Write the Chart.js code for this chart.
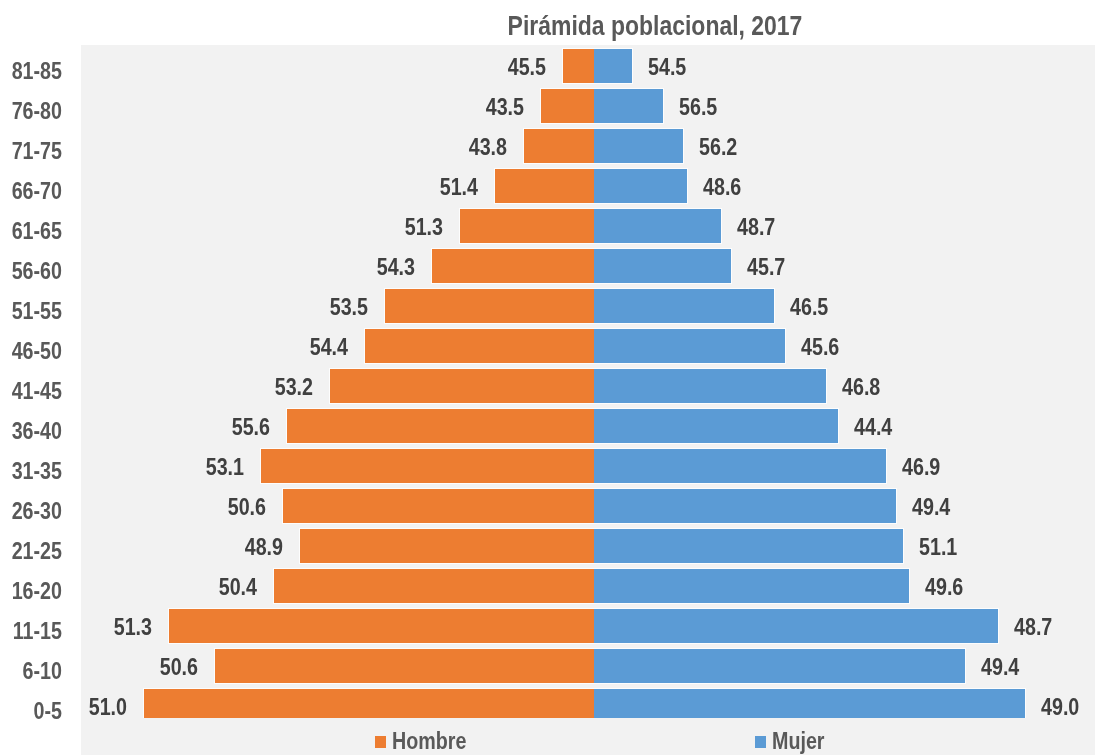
<!DOCTYPE html>
<html>
<head>
<meta charset="utf-8">
<title>Pirámida poblacional, 2017</title>
<script src="https://cdn.jsdelivr.net/npm/chart.js@4.4.1/dist/chart.umd.min.js"></script>
<style>
  html, body { margin: 0; padding: 0; background: #fff; }
  #wrap { position: relative; width: 1095px; height: 755px; }
  #legend { position: absolute; left: 0; top: 728px; width: 1095px; height: 26px;
    font-family: 'Liberation Sans', Arial, sans-serif;
    font-weight: bold; font-size: 24px; line-height: 26px; color: #595959; }
  #legend .item { position: absolute; top: 0; height: 26px; display: flex; align-items: center; }
  #legend .sw { width: 11px; height: 12px; margin-top: 2px; }
  #legend .txt { display: inline-block; margin-left: 6px; transform: scaleX(0.82); transform-origin: left center; }
</style>
</head>
<body>
<div id="wrap">
  <canvas id="pyramid" width="1095" height="755"></canvas>
  <div id="legend"></div>
</div>
<script>
/* Population pyramid: bar length = people per age group, labels = share by sex (%). */

var ageGroups = ['0-5', '6-10', '11-15', '16-20', '21-25', '26-30', '31-35', '36-40', '41-45',
  '46-50', '51-55', '56-60', '61-65', '66-70', '71-75', '76-80', '81-85'];
var hombres = [451, 380, 426, 321, 295, 312, 334, 308, 265, 230, 210, 163, 135, 100, 71, 54, 32];
var mujeres = [432, 372, 405, 316, 310, 303, 293, 245, 233, 192, 181, 138, 128, 94, 90, 70, 39];
var pctHombres = ['51.0', '50.6', '51.3', '50.4', '48.9', '50.6', '53.1', '55.6', '53.2',
  '54.4', '53.5', '54.3', '51.3', '51.4', '43.8', '43.5', '45.5'];
var pctMujeres = ['49.0', '49.4', '48.7', '49.6', '51.1', '49.4', '46.9', '44.4', '46.8',
  '45.6', '46.5', '45.7', '48.7', '48.6', '56.2', '56.5', '54.5'];
var seriesNames = ['Hombre', 'Mujer'];
var titleText = 'Pirámida poblacional, 2017';

var FONT = "'Liberation Sans', Arial, sans-serif";
var ORANGE = '#ED7D31';
var BLUE = '#5B9BD5';

(function () {
  // Arial Narrow look: Liberation Sans squeezed horizontally
  function narrowText(ctx, text, x, y, align) {
    ctx.save();
    ctx.translate(x, y);
    ctx.scale(0.82, 1);
    ctx.textAlign = align;
    ctx.textBaseline = 'alphabetic';
    ctx.fillText(text, 0, 0);
    ctx.restore();
  }

  var plotBg = {
    id: 'plotBg',
    beforeDraw: function (chart) {
      var a = chart.chartArea;
      var ctx = chart.ctx;
      ctx.save();
      ctx.fillStyle = '#F2F2F2';
      ctx.fillRect(a.left, a.top - 1, chart.width - a.left, chart.height - a.top + 1);
      ctx.restore();
    }
  };

  var textLayer = {
    id: 'textLayer',
    afterDraw: function (chart) {
      var ctx = chart.ctx;
      ctx.save();
      // title
      ctx.font = 'bold 28px ' + FONT;
      ctx.fillStyle = '#595959';
      narrowText(ctx, titleText, 655, 35, 'center');
      // category labels, placed by the y scale
      var ys = chart.scales.y;
      ctx.font = 'bold 24px ' + FONT;
      ageGroups.forEach(function (g, i) {
        narrowText(ctx, g, ys.right - 19, ys.getPixelForValue(i) + 13, 'right');
      });
      // value labels next to each bar end
      ctx.fillStyle = '#404040';
      chart.getDatasetMeta(0).data.forEach(function (bar, i) {
        narrowText(ctx, pctHombres[i], bar.x - 16, bar.y + 8.5, 'right');
      });
      chart.getDatasetMeta(1).data.forEach(function (bar, i) {
        narrowText(ctx, pctMujeres[i], bar.x + 15, bar.y + 8.5, 'left');
      });
      ctx.restore();
    }
  };

  var barStyle = {
    borderColor: 'rgba(255, 255, 255, 0.85)',
    borderWidth: 1,
    barPercentage: 0.9,
    categoryPercentage: 1,
    clip: { left: 0, top: 0, right: 0, bottom: -8 },
  };

  new Chart(document.getElementById('pyramid'), {
    type: 'bar',
    data: {
      labels: ageGroups,
      datasets: [
        Object.assign({
          label: seriesNames[0],
          data: hombres.map(function (v) { return -v; }),
          backgroundColor: ORANGE,
        }, barStyle),
        Object.assign({
          label: seriesNames[1],
          data: mujeres,
          backgroundColor: BLUE,
        }, barStyle),
      ],
    },
    options: {
      indexAxis: 'y',
      responsive: false,
      animation: false,
      devicePixelRatio: 1,
      layout: { padding: { top: 46, bottom: 29, left: 0, right: 0 } },
      plugins: {
        legend: { display: false },
        title: { display: false },
        tooltip: { enabled: false },
      },
      scales: {
        x: {
          stacked: true,
          display: false,
          min: -513,
          max: 501,
        },
        y: {
          stacked: true,
          reverse: true,
          grid: { display: false, drawTicks: false },
          border: { display: false },
          ticks: { display: false },
          afterFit: function (scale) { scale.width = 81; },
        },
      },
    },
    plugins: [plotBg, textLayer],
  });

  var legendEl = document.getElementById('legend');
  var colors = [ORANGE, BLUE];
  var lefts = [375, 755];
  seriesNames.forEach(function (name, i) {
    var item = document.createElement('div');
    item.className = 'item';
    item.style.left = lefts[i] + 'px';
    var sw = document.createElement('span');
    sw.className = 'sw';
    sw.style.background = colors[i];
    var txt = document.createElement('span');
    txt.className = 'txt';
    txt.textContent = name;
    item.appendChild(sw);
    item.appendChild(txt);
    legendEl.appendChild(item);
  });
})();
</script>
</body>
</html>
